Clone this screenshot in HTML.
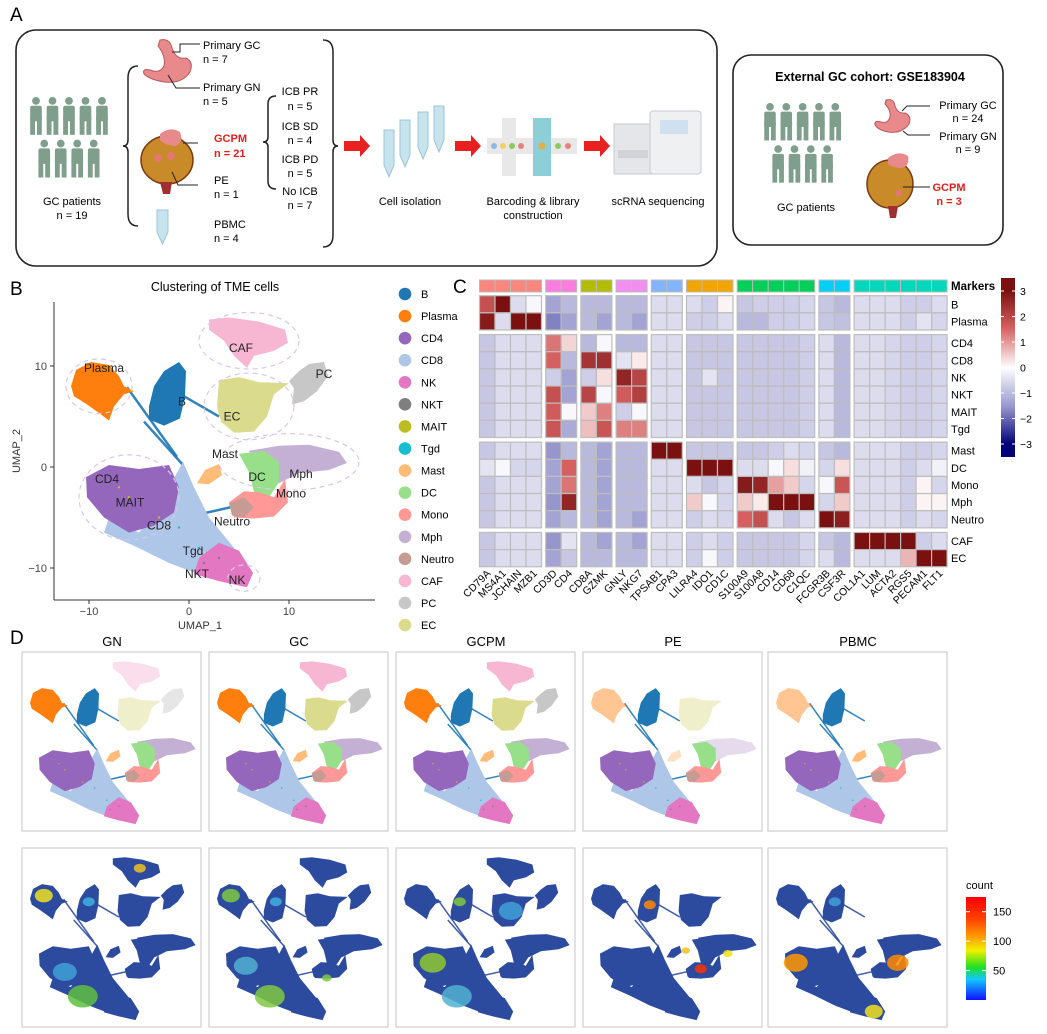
<!DOCTYPE html>
<html><head><meta charset="utf-8"><style>
body{margin:0;background:#fff;}
svg{display:block;font-family:"Liberation Sans",Arial,sans-serif;}
</style></head><body>
<svg id="fig" width="1047" height="1034" viewBox="0 0 1047 1034" xmlns="http://www.w3.org/2000/svg">
<defs>
<linearGradient id="cbar" x1="0" y1="0" x2="0" y2="1">
<stop offset="0" stop-color="#7a1010"/><stop offset="0.07" stop-color="#7a1010"/>
<stop offset="0.28" stop-color="#d66060"/><stop offset="0.5" stop-color="#ffffff"/>
<stop offset="0.72" stop-color="#9696cd"/><stop offset="0.93" stop-color="#000078"/><stop offset="1" stop-color="#000078"/>
</linearGradient>
<linearGradient id="countbar" x1="0" y1="1" x2="0" y2="0">
<stop offset="0" stop-color="#1010ff"/><stop offset="0.2" stop-color="#10c8ff"/><stop offset="0.32" stop-color="#20e020"/>
<stop offset="0.48" stop-color="#f0f000"/><stop offset="0.62" stop-color="#ff9900"/><stop offset="0.78" stop-color="#ff4400"/><stop offset="1" stop-color="#ff0000"/>
</linearGradient>
</defs>

<!-- Panel A -->
<g>
<text x="10" y="21" font-size="19">A</text>
<rect x="16" y="30" width="701" height="236" rx="20" fill="none" stroke="#222" stroke-width="1.6"/>
<g id="people1"></g>
<text x="72" y="205" font-size="11" text-anchor="middle">GC patients</text>
<text x="72" y="219" font-size="11" text-anchor="middle">n = 19</text>
<path d="M138 66 Q128 66 128 78 L128 140 Q128 146 123 146 Q128 146 128 152 L128 214 Q128 226 138 226" fill="none" stroke="#222" stroke-width="1.5"/>
<path d="M323 40 Q333 40 333 52 L333 140 Q333 146 338 146 Q333 146 333 152 L333 235 Q333 247 323 247" fill="none" stroke="#222" stroke-width="1.5"/>
<path d="M276 96 Q268 96 268 104 L268 137 Q268 142 263 142 Q268 142 268 147 L268 181 Q268 189 276 189" fill="none" stroke="#222" stroke-width="1.5"/>
<g>
<path d="M160 40 Q170 38 172 48 Q176 60 186 58 Q194 62 190 72 Q182 84 165 82 Q150 80 144 74 Q142 68 150 70 Q160 74 164 66 Q166 56 158 46 Z" fill="#e8898c" stroke="#b5585c" stroke-width="1"/>
</g>
<path d="M172 52 L180 52 L180 44 L200 44" fill="none" stroke="#222" stroke-width="1"/>
<path d="M168 75 L176 88 L200 88" fill="none" stroke="#222" stroke-width="1"/>
<g>
<ellipse cx="167" cy="160" rx="26" ry="24" fill="#c98a2a" stroke="#7a3a10" stroke-width="1.5"/>
<path d="M160 134 Q170 126 180 132 Q184 142 176 146 Q166 146 160 140 Z" fill="#e8898c"/>
<circle cx="158" cy="158" r="4" fill="#e07a70"/><circle cx="171" cy="156" r="4" fill="#e07a70"/>
<path d="M160 182 L163 194 L170 194 L172 182" fill="#a03030"/>
</g>
<path d="M183 143 L198 143" stroke="#222" stroke-width="1"/>
<path d="M172 172 L178 185 L198 185" fill="none" stroke="#222" stroke-width="1"/>
<g>
<path d="M157 210 L168 210 L168 232 L162.5 244 L157 232 Z" fill="#c6e3ee" stroke="#9bc6d4"/>
</g>
<text x="203" y="49" font-size="11">Primary GC</text>
<text x="203" y="63" font-size="11">n = 7</text>
<text x="203" y="91" font-size="11">Primary GN</text>
<text x="203" y="105" font-size="11">n = 5</text>
<text x="214" y="142" font-size="11" font-weight="bold" fill="#e0201a">GCPM</text>
<text x="214" y="157" font-size="11" font-weight="bold" fill="#e0201a">n = 21</text>
<text x="214" y="184" font-size="11">PE</text>
<text x="214" y="198" font-size="11">n = 1</text>
<text x="214" y="228" font-size="11">PBMC</text>
<text x="214" y="242" font-size="11">n = 4</text>
<g font-size="11" text-anchor="middle">
<text x="300" y="95">ICB PR</text><text x="300" y="110">n = 5</text>
<text x="300" y="130">ICB SD</text><text x="300" y="144">n = 4</text>
<text x="300" y="163">ICB PD</text><text x="300" y="177">n = 5</text>
<text x="300" y="195">No ICB</text><text x="300" y="209">n = 7</text>
</g>
<g fill="#e82020">
<path d="M344 141 L360 141 L360 135 L370 146 L360 157 L360 151 L344 151 Z"/>
<path d="M455 141 L471 141 L471 135 L481 146 L471 157 L471 151 L455 151 Z"/>
<path d="M584 141 L600 141 L600 135 L610 146 L600 157 L600 151 L584 151 Z"/>
</g>
<g fill="#c6e3ee" stroke="#9bc6d4">
<path d="M384 130 L394 130 L394 165 L389 177 L384 165 Z"/>
<path d="M400 120 L410 120 L410 155 L405 167 L400 155 Z"/>
<path d="M418 112 L428 112 L428 147 L423 159 L418 147 Z"/>
<path d="M434 106 L444 106 L444 140 L439 152 L434 140 Z"/>
</g>
<text x="410" y="205" font-size="11" text-anchor="middle">Cell isolation</text>
<g>
<rect x="487" y="138" width="90" height="16" fill="#e8e8e8"/>
<rect x="502" y="118" width="14" height="58" fill="#e8e8e8"/>
<rect x="533" y="118" width="18" height="58" fill="#8ccfd8"/>
<circle cx="494" cy="146" r="3" fill="#8fb8e8"/><circle cx="503" cy="146" r="3" fill="#f0d060"/><circle cx="512" cy="146" r="3" fill="#90c860"/><circle cx="521" cy="146" r="3" fill="#e88080"/><circle cx="542" cy="146" r="3.5" fill="#e0b040"/><circle cx="558" cy="146" r="3" fill="#90c860"/><circle cx="568" cy="146" r="3" fill="#e88080"/>
</g>
<text x="533" y="205" font-size="11" text-anchor="middle">Barcoding &amp; library</text>
<text x="533" y="219" font-size="11" text-anchor="middle">construction</text>
<g>
<rect x="614" y="124" width="40" height="50" fill="#e4e6ea" stroke="#c8cad0"/>
<rect x="650" y="111" width="51" height="63" rx="3" fill="#eef0f2" stroke="#c8cad0"/>
<rect x="660" y="120" width="28" height="14" fill="#cfe0f0"/>
<rect x="618" y="150" width="30" height="8" fill="#d0d4d8"/>
</g>
<text x="658" y="205" font-size="11" text-anchor="middle">scRNA sequencing</text>

<rect x="733" y="55" width="270" height="190" rx="18" fill="none" stroke="#222" stroke-width="1.6"/>
<text x="870" y="81" font-size="12.5" font-weight="bold" text-anchor="middle">External GC cohort: GSE183904</text>
<g id="people2"></g>
<text x="806" y="211" font-size="11" text-anchor="middle">GC patients</text>
<path d="M886 100 Q894 98 895 106 Q898 114 905 113 Q912 116 909 124 Q902 134 888 132 Q878 130 875 125 Q874 120 881 122 Q888 124 890 117 Q891 110 885 104 Z" fill="#e8898c" stroke="#b5585c" stroke-width="1"/>
<path d="M902 111 L907 106 L930 106" fill="none" stroke="#222" stroke-width="1"/>
<path d="M903 131 L908 135 L930 135" fill="none" stroke="#222" stroke-width="1"/>
<g>
<ellipse cx="890" cy="184" rx="23" ry="24" fill="#c98a2a" stroke="#7a3a10" stroke-width="1.5"/>
<path d="M888 158 Q898 150 908 156 Q910 166 902 168 Q893 168 888 164 Z" fill="#e8898c"/>
<circle cx="899" cy="193" r="3.5" fill="#e07a70"/>
<path d="M888 206 L890 218 L896 218 L898 206" fill="#a03030"/>
</g>
<path d="M903 187 L930 187" stroke="#222" stroke-width="1"/>
<g font-size="11" text-anchor="middle">
<text x="968" y="109">Primary GC</text><text x="968" y="122">n = 24</text>
<text x="968" y="140">Primary GN</text><text x="968" y="153">n = 9</text>
<text x="949" y="191" font-weight="bold" fill="#e0201a">GCPM</text><text x="949" y="205" font-weight="bold" fill="#e0201a">n = 3</text>
</g>
</g>

<!-- Panel B -->
<g>
<text x="10" y="295" font-size="19">B</text>
<text x="215" y="291" font-size="12.5" text-anchor="middle">Clustering of TME cells</text>
<g id="umapMain"></g>
<line x1="54" y1="302" x2="54" y2="600" stroke="#333" stroke-width="1"/>
<line x1="54" y1="600" x2="375" y2="600" stroke="#333" stroke-width="1"/>
<g id="umapAxes" font-size="11" fill="#444"></g>
<text x="200" y="629" font-size="11" text-anchor="middle" fill="#333">UMAP_1</text>
<text transform="translate(20,451) rotate(-90)" font-size="11" text-anchor="middle" fill="#333">UMAP_2</text>
<g id="legend" font-size="11"></g>
</g>

<!-- Panel C -->
<g>
<text x="453" y="293" font-size="19">C</text>
<g id="heat"></g>
<rect x="1001" y="278" width="14" height="179" fill="url(#cbar)"/>
<g id="cbarTicks" font-size="10.5"></g>
</g>

<!-- Panel D -->
<g>
<text x="10" y="644" font-size="19">D</text>
<g id="dpanels"></g>
<text x="966" y="889" font-size="11">count</text>
<rect x="966" y="897" width="20" height="103" fill="url(#countbar)"/>
<g id="countTicks" font-size="11"></g>
</g>
</svg>

<script>
// ---------------- Heatmap data ----------------
const genes = ["CD79A","MS4A1","JCHAIN","MZB1","CD3D","CD4","CD8A","GZMK","GNLY","NKG7","TPSAB1","CPA3","LILRA4","IDO1","CD1C","S100A9","S100A8","CD14","CD68","C1QC","FCGR3B","CSF3R","COL1A1","LUM","ACTA2","RGS5","PECAM1","FLT1"];
const geneGroupSizes = [4,2,2,2,2,3,5,2,6];
const geneGroupColors = ["#f9877d","#fc7ce0","#b2bd00","#f28ef0","#84b4ff","#f0a500","#00cf5a","#00cff8","#00d8bb"];
const cellTypes = ["B","Plasma","CD4","CD8","NK","NKT","MAIT","Tgd","Mast","DC","Mono","Mph","Neutro","CAF","EC"];
const cellGroupSizes = [2,6,5,2];
const expr = [
[1.8,3.5,-0.5,-0.1, -1.3,-1.0, -1.0,-1.0, -1.0,-1.0, -0.5,-0.5, -0.5,-0.7,0.1, -0.8,-0.7,-0.7,-0.7,-0.6, -0.8,-1.0, -0.5,-0.5,-0.5,-0.7,-0.7,-0.5],
[2.8,-0.5,3.3,3.3, -1.7,-1.3, -1.0,-1.3, -1.0,-1.3, -0.5,-0.5, -0.7,-0.7,-0.5, -1.0,-1.0,-0.7,-0.7,-0.6, -0.8,-0.9, -0.5,-0.5,-0.5,-0.7,-0.4,-0.6],
[-0.8,-0.5,-0.5,-0.5, 1.3,0.4, -1.0,-0.1, -1.0,-1.0, -0.5,-0.5, -0.8,-0.8,-0.8, -0.8,-0.8,-0.8,-0.8,-0.7, -0.5,-1.0, -0.5,-0.5,-0.6,-0.7,-0.7,-0.6],
[-0.8,-0.5,-0.5,-0.5, 1.5,-1.0, 2.3,2.4, -0.4,0.2, -0.5,-0.5, -0.8,-0.8,-0.8, -0.8,-0.8,-0.8,-0.8,-0.7, -0.5,-1.0, -0.5,-0.5,-0.6,-0.7,-0.7,-0.6],
[-0.8,-0.5,-0.5,-0.5, -0.7,-1.3, -0.7,0.3, 2.6,2.0, -0.5,-0.5, -0.8,-0.4,-0.8, -0.8,-0.8,-0.8,-0.8,-0.7, -0.5,-1.0, -0.5,-0.5,-0.6,-0.7,-0.7,-0.6],
[-0.8,-0.5,-0.5,-0.5, 1.8,-1.3, 2.0,-0.1, 1.6,2.1, -0.5,-0.5, -0.8,-0.8,-0.8, -0.8,-0.8,-0.8,-0.8,-0.7, -0.5,-1.0, -0.5,-0.5,-0.6,-0.7,-0.7,-0.6],
[-0.8,-0.5,-0.5,-0.5, 1.6,-0.1, 0.5,1.2, -0.7,-0.1, -0.5,-0.5, -0.8,-0.8,-0.8, -0.8,-0.8,-0.8,-0.8,-0.7, -0.5,-1.0, -0.5,-0.5,-0.6,-0.7,-0.7,-0.6],
[-0.8,-0.5,-0.5,-0.5, 1.7,-1.2, 0.6,1.7, 1.2,1.2, -0.5,-0.5, -0.8,-0.8,-0.8, -0.8,-0.8,-0.8,-0.8,-0.7, -0.5,-1.0, -0.5,-0.5,-0.6,-0.7,-0.7,-0.6],
[-0.8,-0.5,-0.5,-0.5, -1.5,-1.0, -1.0,-1.3, -1.0,-1.0, 3.5,3.5, -0.8,-0.8,-0.8, -0.8,-0.8,-0.7,-0.5,-0.6, -0.8,-1.0, -0.5,-0.5,-0.5,-0.7,-0.7,-0.6],
[-0.4,-0.1,-0.6,-0.6, -1.3,1.5, -1.0,-1.3, -1.0,-1.0, -0.5,-0.5, 3.5,3.5,3.5, -0.5,-0.5,-0.1,0.3,-0.2, -0.6,0.3, -0.5,-0.5,-0.5,-0.7,-0.5,-0.2],
[-0.8,-0.5,-0.5,-0.5, -1.3,1.3, -1.0,-1.3, -1.0,-1.0, -0.5,-0.5, -0.5,-0.8,-0.6, 2.8,2.6,0.9,0.5,-0.6, -0.1,1.7, -0.5,-0.5,-0.5,-0.7,0.1,-0.6],
[-0.8,-0.5,-0.5,-0.5, -1.5,2.6, -1.0,-1.3, -1.0,-1.0, -0.5,-0.5, 0.5,-0.1,-0.6, 0.5,0.2,3.5,3.5,3.5, -0.6,0.5, -0.5,-0.5,-0.5,-0.7,0.1,0.1],
[-0.8,-0.5,-0.5,-0.5, -1.3,-1.0, -1.0,-1.3, -1.0,-1.3, -0.5,-0.5, -0.7,-0.5,-0.6, 1.5,1.8,-0.5,-0.8,-0.5, 3.5,2.7, -0.5,-0.5,-0.5,-0.7,-0.5,-0.6],
[-0.8,-0.5,-0.5,-0.5, -1.5,-0.4, -1.0,-1.3, -1.0,-1.3, -0.5,-0.5, -0.7,-0.5,-0.7, -0.8,-0.8,-0.8,-0.8,-0.6, -0.8,-1.0, 3.5,3.5,3.5,3.5,-0.7,-0.5],
[-0.8,-0.5,-0.5,-0.5, -1.3,-0.8, -1.0,-1.0, -1.0,-1.0, -0.5,-0.5, -0.7,-0.1,-0.7, -0.8,-0.8,-0.8,-0.8,-0.6, -0.5,-1.0, -0.5,-0.5,-0.5,0.7,3.5,3.5]
];
const cbarTicks = [3,2,1,0,-1,-2,-3];

// ---------------- UMAP data ----------------
const clusterNames = ["B","Plasma","CD4","CD8","NK","NKT","MAIT","Tgd","Mast","DC","Mono","Mph","Neutro","CAF","PC","EC"];
const clusterColors = ["#1f77b4","#ff7f0e","#9467bd","#aec7e8","#e377c2","#7f7f7f","#bcbd22","#17becf","#ffbb78","#98df8a","#ff9896","#c5b0d5","#c49c94","#f7b6d2","#c7c7c7","#dbdb8d"];
const umapXTicks = [-10,0,10];
const umapYTicks = [-10,0,10];
const sampleNames = ["GN","GC","GCPM","PE","PBMC"];
const countTicks = [150,100,50];
// cluster outlines in UMAP coordinates
const shapes = {
 CD8:[[-8,-5],[-5,-6.5],[-2,-2],[-0.6,0.5],[0.5,-2],[2,-5],[4.5,-8],[6,-10.5],[5.5,-11.8],[2,-11],[-2,-9.5],[-5.5,-7.8],[-8.5,-6.5]],
 CD4:[[-10.3,-1],[-8,0.2],[-5,-0.2],[-2,0.2],[-1,-2],[-1.5,-4.5],[-3.5,-5.8],[-6,-6.5],[-8.5,-5],[-10.2,-3]],
 NK:[[1,-9],[3,-7.5],[5,-8.3],[6.4,-10.5],[5.8,-11.9],[3,-11.3],[0.5,-10.6]],
 Plasma:[[-11.8,8],[-11.3,9.6],[-9.8,10.4],[-8,10.1],[-7,9],[-6.5,8],[-5.5,7.5],[-6.5,7.2],[-7.5,6],[-8,4.6],[-8.8,5.2],[-10.2,6.2],[-11.5,7]],
 B:[[-4,6],[-3.5,8],[-2.5,9.5],[-1,10.4],[-0.3,9.5],[-0.4,7],[-0.9,4.8],[-2.5,4.1],[-4,4.7]],
 CAF:[[2,14.6],[4,14.8],[7,14.4],[9.6,13.6],[9.9,12.3],[8.5,11.5],[6.5,11],[5.8,9.8],[4.5,11],[3.5,12.5],[2,13.6]],
 PC:[[10,8.5],[11,9.5],[12,10.2],[13.5,10.4],[13.9,9],[12.8,7.5],[11.5,6.5],[10.3,6.2],[10.5,7.8]],
 EC:[[3,8.6],[5,8.9],[7,8.4],[10,8.3],[8.5,7.2],[7.8,5],[6.5,3.5],[4.5,3.4],[3.2,4.5],[2.8,6]],
 Mast:[[0.8,-1.6],[1.6,-0.3],[3,0.3],[3.3,-0.8],[2,-1.7]],
 Mph:[[6,1.6],[9,2.1],[12,2.2],[15,1.5],[15.8,0.4],[14,-0.3],[11,-0.6],[9,-1.6],[7.5,-0.5]],
 DC:[[5,1.3],[7.5,1.6],[9,0.5],[9,-1.5],[8,-3],[6.5,-2.5],[6,-0.5]],
 Mono:[[4,-3.5],[5.5,-2.4],[7,-2.5],[8.5,-3],[9.6,-1.2],[9.9,-3.5],[8.5,-4.9],[6.5,-5.1],[4.5,-5]],
 Neutro:[[4,-3.6],[5.5,-3],[6.5,-4],[5.5,-5],[4.3,-4.8]]
};
const drawOrder = ["CD8","CD4","NK","Plasma","B","CAF","PC","EC","Mast","Mph","DC","Mono","Neutro"];
const clusterLabels = [["Plasma",-8.5,9.8],["B",-0.7,6.5],["CAF",5.2,11.8],["PC",13.5,9.2],["EC",4.3,5],["Mast",3.6,1.3],["DC",6.8,-1],["Mph",11.2,-0.7],["Mono",10.2,-2.6],["Neutro",4.3,-5.4],["CD4",-8.2,-1.2],["MAIT",-5.9,-3.5],["CD8",-3,-5.8],["Tgd",0.4,-8.3],["NKT",0.8,-10.6],["NK",4.8,-11.2]];

const NS="http://www.w3.org/2000/svg";
function el(tag, attrs, parent){const e=document.createElementNS(NS,tag);for(const k in attrs)e.setAttribute(k,attrs[k]);if(parent)parent.appendChild(e);return e;}
const col = n => clusterColors[clusterNames.indexOf(n)];

// people icons
function drawPeople(gid, x0, y0, s){
  const g=document.getElementById(gid);
  const pos=[];
  for(let i=0;i<5;i++)pos.push([x0+i*17*s,y0]);
  for(let i=0;i<4;i++)pos.push([x0+8.5*s+i*17*s,y0+44*s]);
  pos.forEach(p=>{
    const f=el("g",{fill:"#7f9e8b"},g);
    el("circle",{cx:p[0],cy:p[1]+4*s,r:4*s},f);
    el("rect",{x:p[0]-6*s,y:p[1]+9*s,width:12*s,height:16*s,rx:2*s},f);
    el("rect",{x:p[0]-6*s,y:p[1]+20*s,width:5*s,height:19*s},f);
    el("rect",{x:p[0]+1*s,y:p[1]+20*s,width:5*s,height:19*s},f);
  });
}
drawPeople("people1",36,97,0.97);
drawPeople("people2",770,103,0.96);

// UMAP drawing
function drawUmap(g, X, Y, r, opts){
  opts=opts||{};
  const pts=a=>a.map(p=>X(p[0]).toFixed(1)+","+Y(p[1]).toFixed(1)).join(" ");
  // bridges
  const br=[[[-6.2,7.9],[-1.2,1]],[[-4.5,4.5],[-0.6,0.2]],[[-0.5,7],[3,5]],[[0.5,-4.8],[5,-3.8]]];
  br.forEach(b=>{const l=el("line",{x1:X(b[0][0]),y1:Y(b[0][1]),x2:X(b[1][0]),y2:Y(b[1][1]),stroke:opts.hex?"#2d4b9e":col("B"),"stroke-width":r*0.25,opacity:0.9},g);
    
    });
  drawOrder.forEach(n=>{
    if(opts.skip&&opts.skip.includes(n))return;
    const p=el("polygon",{points:pts(shapes[n]),fill:opts.hex?"#2d4b9e":col(n),opacity:(opts.fade&&opts.fade.includes(n))?0.45:1},g);
    
    
  });
  if(!opts.hex){
    // scattered mixed dots in T region
    const mix=[["MAIT",-6,-3],["Tgd",1,-8],["NKT",1.5,-9.5],["MAIT",-3,-5],["Tgd",-1,-6],["NK",-4,-6],["MAIT",-7,-2],["NKT",3,-9]];
    mix.forEach(m=>{const c=el("circle",{cx:X(m[1]),cy:Y(m[2]),r:r*0.12,fill:col(m[0])},g);
      
      });
  }
}

// main UMAP
const mg=document.getElementById("umapMain");
const mX=u=>189+10*u, mY=v=>467-10.1*v;
drawUmap(mg,mX,mY,10);
// dashed ellipses
[[-9,8,3.3,2.7],[6,12.5,5,2.8],[6,6,4.5,3.3],[10,0.5,7,2.8],[-6,-3,5,4.2],[5.5,-11,1.6,1.3]].forEach(e=>{
  const d=el("ellipse",{cx:mX(e[0]),cy:mY(e[1]),rx:e[2]*10,ry:e[3]*10.1,fill:"none",stroke:"#d8c8e8","stroke-width":1.2,"stroke-dasharray":"5,4"},mg);
  
  
});
clusterLabels.forEach(l=>{
  const t=el("text",{x:mX(l[1]),y:mY(l[2])+4,"font-size":12,"text-anchor":"middle",fill:"#222"},mg);
  t.textContent=l[0];
  
  
});
const ax=document.getElementById("umapAxes");
umapXTicks.forEach(t=>{
  el("line",{x1:mX(t),x2:mX(t),y1:600,y2:604,stroke:"#333"},ax);
  const tx=el("text",{x:mX(t),y:615,"text-anchor":"middle"},ax);tx.textContent=t<0?"\u2212"+(-t):t;
  
  
});
umapYTicks.forEach(t=>{
  el("line",{x1:50,x2:54,y1:mY(t),y2:mY(t),stroke:"#333"},ax);
  const tx=el("text",{x:47,y:mY(t)+4,"text-anchor":"end"},ax);tx.textContent=t<0?"\u2212"+(-t):t;
  
  
});
// legend
const lg=document.getElementById("legend");
clusterNames.forEach((n,i)=>{
  const y=294+i*22.07;
  const c=el("circle",{cx:405,cy:y,r:6.3,fill:clusterColors[i]},lg);
  
  
  const t=el("text",{x:421,y:y+4},lg);t.textContent=n;
  
  
});

// heatmap
function heatColor(v){
  v=Math.max(-3.5,Math.min(3.5,v));
  const lerp=(a,b,t)=>a.map((x,i)=>Math.round(x+(b[i]-x)*t));
  let c;
  if(v>=0){const t=v/3; c=t<0.5?lerp([255,255,255],[214,96,96],t/0.5):lerp([214,96,96],[122,16,16],Math.min(1,(t-0.5)/0.5));}
  else{const t=-v/3; c=t<0.5?lerp([255,255,255],[150,150,205],t/0.5):lerp([150,150,205],[0,0,120],Math.min(1,(t-0.5)/0.5));}
  return "rgb("+c.join(",")+")";
}
const hg=document.getElementById("heat");
const cw=15.5, cgap=4.2, x0=479.5, rh=17.15, rgap=4.6, y0=295.7;
const colX=[]; {let x=x0,k=0; geneGroupSizes.forEach(s=>{for(let i=0;i<s;i++){colX.push(x);x+=cw;} x+=cgap;});}
const rowY=[]; {let y=y0; cellGroupSizes.forEach(s=>{for(let i=0;i<s;i++){rowY.push(y);y+=rh;} y+=rgap;});}
// group header strips
{let k=0; geneGroupSizes.forEach((s,gi)=>{
  for(let i=0;i<s;i++){
    const r=el("rect",{x:colX[k],y:280,width:cw,height:12,fill:geneGroupColors[gi],stroke:"#bbb","stroke-width":1},hg);
    
    
    k++;
  }
});}
expr.forEach((row,ri)=>{
  row.forEach((v,ci)=>{
    const r=el("rect",{x:colX[ci],y:rowY[ri],width:cw,height:rh,fill:heatColor(v),stroke:"#bdbdbd","stroke-width":1.2},hg);
    
    
  });
});
cellTypes.forEach((n,i)=>{
  const t=el("text",{x:951,y:rowY[i]+rh/2+4,"font-size":11},hg);t.textContent=n;
  
  
});
{const t=el("text",{x:951,y:290,"font-size":11.5,"font-weight":"bold"},hg);t.textContent="Markers";
 
 }
genes.forEach((g,i)=>{
  const x=colX[i]+cw/2+4, y=574;
  const t=el("text",{x:x,y:y,"font-size":10.5,"text-anchor":"end",transform:"rotate(-45 "+x+" "+y+")"},hg);t.textContent=g;
  
  
});
const cbt=document.getElementById("cbarTicks");
cbarTicks.forEach(v=>{
  const y=367.5-v*25.5;
  el("line",{x1:1001,x2:1004,y1:y,y2:y,stroke:"#fff"},cbt);
  el("line",{x1:1012,x2:1015,y1:y,y2:y,stroke:"#fff"},cbt);
  const t=el("text",{x:1020,y:y+4},cbt);t.textContent=v<0?"\u2212"+(-v):v;
  
  
});

// panel D
const dp=document.getElementById("dpanels");
const boxX=[22,209,396,583,768];
const skips=[[],[],[],["CAF","PC"],["CAF","PC","EC"]];
const fades=[["CAF","PC","EC"],[],[],["Plasma","EC","PC","Mph","Mast"],["Plasma","EC"]];
const hotspots=[
 [[-9.5,8.5,1.5,"#f0e020"],[-2,7.5,1,"#3fb0e0"],[6.5,13,1,"#f0c020"],[-3,-8,2.5,"#60c040"],[-6,-4,2,"#3fa0d8"]],
 [[-9.5,8.5,1.5,"#80c840"],[-2,7.5,1,"#3fb0e0"],[-3,-8,2.5,"#80c840"],[-7,-3,2,"#50b0d0"],[6.5,-5,0.8,"#80c840"]],
 [[-2.5,7.5,1,"#80c840"],[-7,-2.5,2.2,"#90c830"],[-3,-8,2.5,"#50b0d0"],[6,6,2,"#3fa0d8"]],
 [[-2,7,1,"#ff8800"],[6.5,-3.5,1,"#ff3000"],[11,-1,0.8,"#f0e020"],[4,-0.5,0.7,"#f0c020"]],
 [[-8.5,-2.5,2,"#ff9900"],[8.5,-2.5,1.8,"#ff8800"],[4.5,-10.5,1.5,"#f0e020"],[-2,7.5,1,"#3fa0d8"]]
];
sampleNames.forEach((n,i)=>{
  const bx=boxX[i];
  const t=el("text",{x:bx+90,y:646,"font-size":13,"text-anchor":"middle"},dp);t.textContent=n;
  
  
  [652,848].forEach((by,row)=>{
    const r=el("rect",{x:bx,y:by,width:179,height:179,fill:"#fff",stroke:"#cfcfcf","stroke-width":1.2},dp);
    
    
    const g=el("g",{},dp);
    const X=u=>bx+8+(u+11.8)*6.0, Y=v=>by+8+(15-v)*6.1;
    drawUmap(g,X,Y,6,{hex:row===1,skip:skips[i],fade:row===0?fades[i]:[]});
    if(row===1){
      hotspots[i].forEach(h=>{
        const e=el("ellipse",{cx:X(h[0]),cy:Y(h[1]),rx:h[2]*6,ry:h[2]*4.5,fill:h[3],opacity:0.85},g);
        
        
      });
    }
  });
});
const ct=document.getElementById("countTicks");
countTicks.forEach(v=>{
  const y=1000-(v/175)*103;
  el("line",{x1:966,x2:970,y1:y,y2:y,stroke:"#fff"},ct);
  el("line",{x1:982,x2:986,y1:y,y2:y,stroke:"#fff"},ct);
  const t=el("text",{x:993,y:y+4},ct);t.textContent=v;
  
  
});
</script>
</body></html>
